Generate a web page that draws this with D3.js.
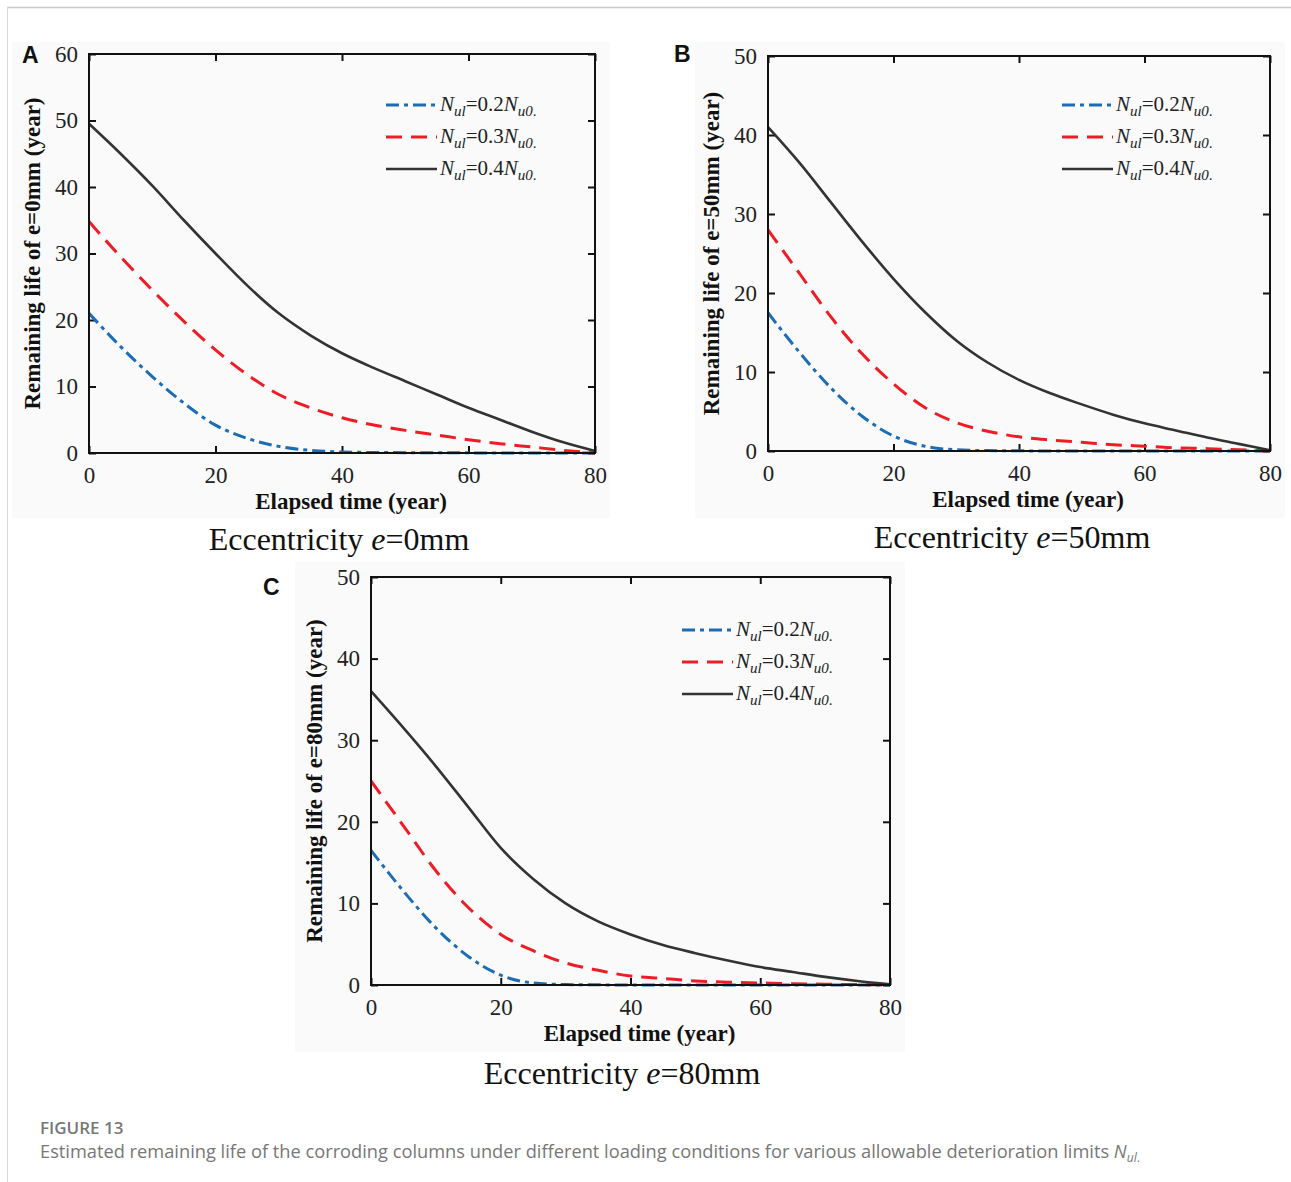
<!DOCTYPE html>
<html>
<head>
<meta charset="utf-8">
<script src="https://cdn.jsdelivr.net/npm/d3@7"></script>
<style>
  body { margin: 0; background: #fff; }
  svg text { font-family: "Liberation Serif", "Times New Roman", serif; }
</style>
</head>
<body>
<div id="chart"></div>
<script>
// Elapsed time (year) sample points
const years = [0, 5, 10, 15, 20, 25, 30, 35, 40, 45, 50, 55, 60, 65, 70, 75, 80];

// Panel A, e = 0mm
const a02 = [21, 16, 11.5, 7.5, 4.2, 2.2, 1, 0.4, 0.15, 0.08, 0.05, 0.03, 0.02, 0.01, 0, 0, 0];
const a03 = [34.8, 29.5, 24.5, 19.8, 15.5, 11.8, 8.8, 6.8, 5.3, 4.2, 3.4, 2.7, 2, 1.4, 0.9, 0.4, 0];
const a04 = [49.5, 45, 40.2, 35, 30, 25.2, 21, 17.7, 15, 12.8, 10.8, 8.8, 6.8, 5, 3.2, 1.6, 0.3];

// Panel B, e = 50mm
const b02 = [17.5, 12.5, 8, 4.4, 1.9, 0.6, 0.15, 0.05, 0.02, 0.01, 0, 0, 0, 0, 0, 0, 0];
const b03 = [28, 22.5, 17, 12.3, 8.5, 5.5, 3.6, 2.5, 1.8, 1.4, 1.1, 0.8, 0.6, 0.4, 0.3, 0.15, 0];
const b04 = [41, 36.5, 31.5, 26.5, 21.8, 17.6, 14, 11.2, 9, 7.3, 5.9, 4.6, 3.5, 2.6, 1.7, 0.9, 0.1];

// Panel C, e = 80mm
const c02 = [16.5, 11.5, 7, 3.5, 1.2, 0.25, 0.05, 0.02, 0, 0, 0, 0, 0, 0, 0, 0, 0];
const c03 = [25, 19.5, 14, 9.5, 6.2, 4.2, 2.7, 1.8, 1.1, 0.8, 0.5, 0.35, 0.25, 0.15, 0.1, 0.05, 0];
const c04 = [36, 31.5, 26.8, 21.8, 16.8, 13, 10, 7.8, 6.2, 4.9, 3.9, 3, 2.2, 1.6, 1, 0.5, 0.1];

const xTicks = [0, 20, 40, 60, 80];
const seriesNames = ["0.2", "0.3", "0.4"];

const W = 1291, H = 1182;
const svg = d3.select("#chart").append("svg")
    .attr("width", W).attr("height", H);

// page frame
svg.append("line").attr("x1", 7).attr("x2", W).attr("y1", 7.5).attr("y2", 7.5)
    .attr("stroke", "#c8c8c8").attr("stroke-width", 1.5);
svg.append("line").attr("x1", 7.5).attr("x2", 7.5).attr("y1", 7).attr("y2", H)
    .attr("stroke", "#d8d8d8").attr("stroke-width", 1);

const styles = [
    { color: "#1d6db5", dash: "13,5,4,5", width: 3 },
    { color: "#ee1c24", dash: "16,9", width: 3 },
    { color: "#333333", dash: null, width: 2.6 }
];

const serif = "Liberation Serif, Times New Roman, serif";

function drawPanel(p) {
    const g = svg.append("g");
    // light panel background
    g.append("rect").attr("x", p.bg[0]).attr("y", p.bg[1])
        .attr("width", p.bg[2]).attr("height", p.bg[3]).attr("fill", "#fafafa");

    const x = d3.scaleLinear().domain([0, 80]).range([p.left, p.right]);
    const y = d3.scaleLinear().domain([0, p.yMax]).range([p.bottom, p.top]);
    const yTicks = d3.range(0, p.yMax + 1, 10);

    const plotW = p.right - p.left, plotH = p.bottom - p.top;

    // axes with inward ticks
    g.append("g").attr("transform", `translate(0,${p.bottom})`)
        .call(d3.axisBottom(x).tickValues(xTicks).tickSizeInner(-7).tickSizeOuter(0).tickPadding(14))
        .call(s => s.select(".domain").remove());
    g.append("g").attr("transform", `translate(0,${p.top})`)
        .call(d3.axisTop(x).tickValues(xTicks).tickSizeInner(-7).tickSizeOuter(0).tickFormat(""))
        .call(s => s.select(".domain").remove());
    g.append("g").attr("transform", `translate(${p.left},0)`)
        .call(d3.axisLeft(y).tickValues(yTicks).tickSizeInner(-7).tickSizeOuter(0).tickPadding(11))
        .call(s => s.select(".domain").remove());
    g.append("g").attr("transform", `translate(${p.right},0)`)
        .call(d3.axisRight(y).tickValues(yTicks).tickSizeInner(-7).tickSizeOuter(0).tickFormat(""))
        .call(s => s.select(".domain").remove());

    g.selectAll(".tick line").attr("stroke", "#111").attr("stroke-width", 2);
    g.selectAll(".tick text").attr("fill", "#222")
        .attr("font-family", serif).attr("font-size", 23)
        .style("font-size", "23px").style("font-family", serif);

    // lines
    const line = d3.line().x((d, i) => x(years[i])).y(d => y(d)).curve(d3.curveMonotoneX);
    p.series.forEach((vals, k) => {
        const st = styles[k];
        g.append("path").datum(vals)
            .attr("d", line)
            .attr("fill", "none")
            .attr("stroke", st.color)
            .attr("stroke-width", st.width)
            .attr("stroke-dasharray", st.dash);
    });

    // frame
    g.append("rect").attr("x", p.left).attr("y", p.top)
        .attr("width", plotW).attr("height", plotH)
        .attr("fill", "none").attr("stroke", "#111").attr("stroke-width", 2);

    // axis titles
    g.append("text")
        .attr("x", (p.left + p.right) / 2 + 9).attr("y", p.bottom + 56)
        .attr("text-anchor", "middle").attr("font-weight", "bold")
        .attr("font-size", 23).attr("fill", "#111")
        .text("Elapsed time (year)");
    g.append("text")
        .attr("transform", `translate(${p.left - 49},${(p.top + p.bottom) / 2}) rotate(-90)`)
        .attr("text-anchor", "middle").attr("font-weight", "bold")
        .attr("font-size", 23).attr("fill", "#111")
        .text(p.yTitle);

    // legend
    seriesNames.forEach((nm, k) => {
        const st = styles[k];
        const ly = p.legend[1] + k * 32;
        g.append("line")
            .attr("x1", p.legend[0]).attr("x2", p.legend[0] + 51)
            .attr("y1", ly).attr("y2", ly)
            .attr("stroke", st.color).attr("stroke-width", st.width)
            .attr("stroke-dasharray", st.dash);
        const t = g.append("text")
            .attr("x", p.legend[0] + 54).attr("y", ly + 6)
            .attr("font-size", 21).attr("fill", "#222");
        t.append("tspan").attr("font-style", "italic").text("N");
        t.append("tspan").attr("font-style", "italic").attr("font-size", 15).attr("dy", 5).text("ul");
        t.append("tspan").attr("dy", -5).text("=" + nm);
        t.append("tspan").attr("font-style", "italic").text("N");
        t.append("tspan").attr("font-style", "italic").attr("font-size", 15).attr("dy", 5).text("u0");
        t.append("tspan").attr("font-size", 15).text(".");
    });

    // panel letter
    svg.append("text").attr("x", p.letterPos[0]).attr("y", p.letterPos[1])
        .style("font-family", "Liberation Sans, Arial, sans-serif")
        .attr("font-weight", "bold").attr("font-size", 23).attr("fill", "#111")
        .text(p.letter);

    // subtitle
    const st = svg.append("text").attr("x", p.sub[0]).attr("y", p.sub[1])
        .attr("text-anchor", "middle").attr("font-size", 32).attr("fill", "#111");
    st.append("tspan").text("Eccentricity ");
    st.append("tspan").attr("font-style", "italic").text("e");
    st.append("tspan").text("=" + p.ecc);
}

drawPanel({
    left: 89, right: 595, top: 54, bottom: 453, yMax: 60,
    bg: [12, 42, 598, 476],
    series: [a02, a03, a04],
    yTitle: "Remaining life of e=0mm (year)",
    legend: [386, 105],
    letter: "A", letterPos: [22, 63],
    sub: [339, 550], ecc: "0mm"
});
drawPanel({
    left: 768, right: 1270, top: 56, bottom: 451, yMax: 50,
    bg: [695, 42, 590, 476],
    series: [b02, b03, b04],
    yTitle: "Remaining life of e=50mm (year)",
    legend: [1062, 105],
    letter: "B", letterPos: [674, 62],
    sub: [1012, 548], ecc: "50mm"
});
drawPanel({
    left: 371, right: 890, top: 577, bottom: 985, yMax: 50,
    bg: [295, 562, 610, 490],
    series: [c02, c03, c04],
    yTitle: "Remaining life of e=80mm (year)",
    legend: [682, 630],
    letter: "C", letterPos: [263, 595],
    sub: [622, 1084], ecc: "80mm"
});

// caption
svg.append("text").attr("x", 40).attr("y", 1134)
    .style("font-family", "Open Sans, Noto Sans, sans-serif")
    .attr("font-size", 17).attr("font-weight", 600).attr("fill", "#777")
    .text("FIGURE 13");
const cap = svg.append("text").attr("x", 40).attr("y", 1158)
    .style("font-family", "Open Sans, Noto Sans, sans-serif")
    .attr("font-size", 18).attr("fill", "#777")
    .attr("textLength", 1100).attr("lengthAdjust", "spacingAndGlyphs");
cap.append("tspan").text("Estimated remaining life of the corroding columns under different loading conditions for various allowable deterioration limits ");
cap.append("tspan").attr("font-style", "italic").text("N");
cap.append("tspan").attr("font-style", "italic").attr("font-size", 12).attr("dy", 4).text("ul");
cap.append("tspan").attr("font-size", 12).text(".");
</script>
</body>
</html>
